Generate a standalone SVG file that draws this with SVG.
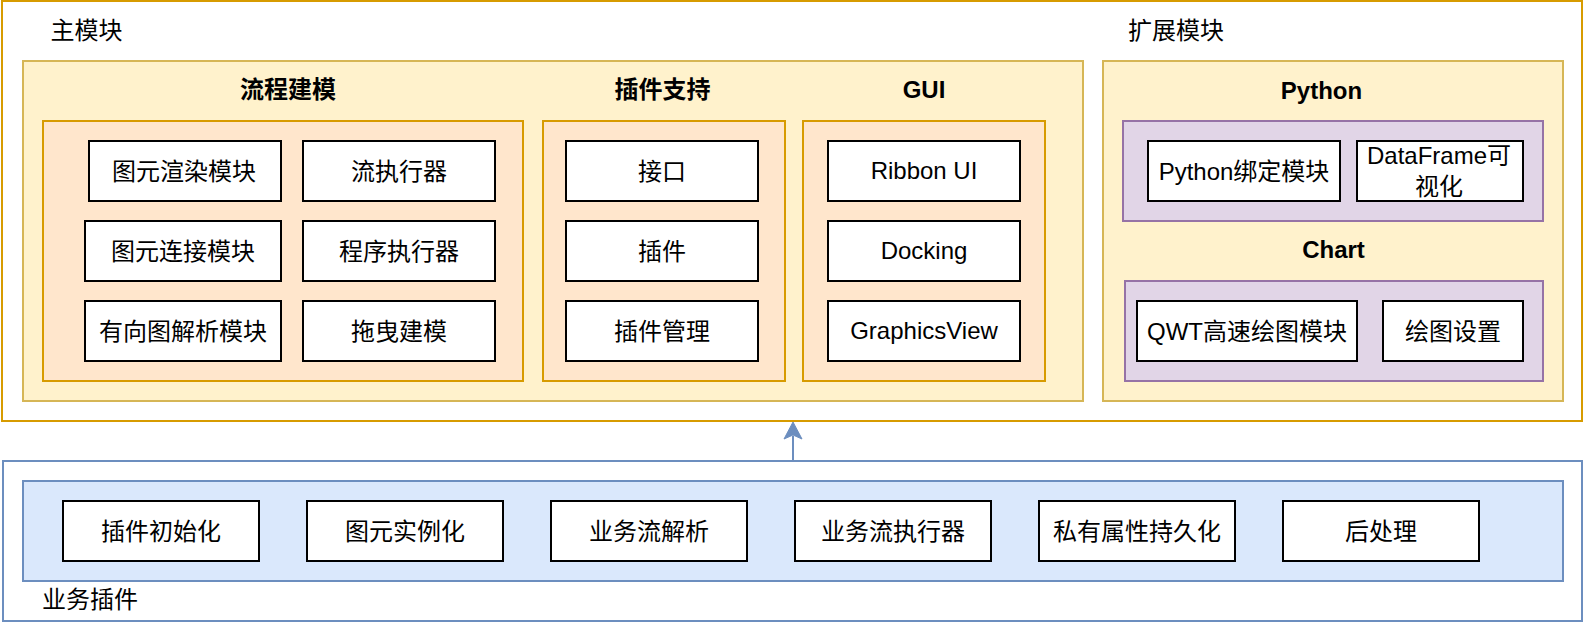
<svg xmlns="http://www.w3.org/2000/svg" width="1584" height="630" viewBox="0 0 1584 630">
<defs>
<style>
text { font-family: "Liberation Sans", "Noto Sans CJK SC", sans-serif; font-size: 24px; fill: #000; }
.c { text-anchor: middle; }
.b { font-weight: bold; }
.frame { fill: #ffffff; stroke: #d79b00; stroke-width: 2; }
.yellow { fill: #fff2cc; stroke: #d6b656; stroke-width: 2; }
.orange { fill: #ffe6cc; stroke: #d79b00; stroke-width: 2; }
.purple { fill: #e1d5e7; stroke: #9673a6; stroke-width: 2; }
.blueframe { fill: #ffffff; stroke: #6c8ebf; stroke-width: 2; }
.blue { fill: #dae8fc; stroke: #6c8ebf; stroke-width: 2; }
.box { fill: #ffffff; stroke: #000000; stroke-width: 2; }
.edge { stroke: #6c8ebf; stroke-width: 2; fill: none; }
</style>
</defs>

<g id="main-frame">
<rect class="frame" x="2" y="1" width="1580" height="420"/>
<text x="50.5" y="39">主模块</text>
<text x="1128" y="39">扩展模块</text>
</g>

<g id="main-module">
<rect class="yellow" x="23" y="61" width="1060" height="340"/>
<text class="c b" x="288" y="98">流程建模</text>
<text class="c b" x="662.5" y="98">插件支持</text>
<text class="c b" x="924" y="98">GUI</text>
</g>

<g id="flow-modeling">
<rect class="orange" x="43" y="121" width="480" height="260"/>
</g>
<g id="n-render"><rect class="box" x="89" y="141" width="192" height="60"/><text class="c" x="184" y="179.5">图元渲染模块</text></g>
<g id="n-flowexec"><rect class="box" x="303" y="141" width="192" height="60"/><text class="c" x="399" y="179.5">流执行器</text></g>
<g id="n-connect"><rect class="box" x="85" y="221" width="196" height="60"/><text class="c" x="183" y="259.5">图元连接模块</text></g>
<g id="n-progexec"><rect class="box" x="303" y="221" width="192" height="60"/><text class="c" x="399" y="259.5">程序执行器</text></g>
<g id="n-graphparse"><rect class="box" x="85" y="301" width="196" height="60"/><text class="c" x="183" y="339.5">有向图解析模块</text></g>
<g id="n-drag"><rect class="box" x="303" y="301" width="192" height="60"/><text class="c" x="399" y="339.5">拖曳建模</text></g>

<g id="plugin-support">
<rect class="orange" x="543" y="121" width="242" height="260"/>
</g>
<g id="n-interface"><rect class="box" x="566" y="141" width="192" height="60"/><text class="c" x="662" y="179.5">接口</text></g>
<g id="n-plugin"><rect class="box" x="566" y="221" width="192" height="60"/><text class="c" x="662" y="259.5">插件</text></g>
<g id="n-pluginmgr"><rect class="box" x="566" y="301" width="192" height="60"/><text class="c" x="662" y="339.5">插件管理</text></g>

<g id="gui">
<rect class="orange" x="803" y="121" width="242" height="260"/>
</g>
<g id="n-ribbon"><rect class="box" x="828" y="141" width="192" height="60"/><text class="c" x="924" y="179">Ribbon UI</text></g>
<g id="n-docking"><rect class="box" x="828" y="221" width="192" height="60"/><text class="c" x="924" y="259">Docking</text></g>
<g id="n-gview"><rect class="box" x="828" y="301" width="192" height="60"/><text class="c" x="924" y="339">GraphicsView</text></g>

<g id="ext-module">
<rect class="yellow" x="1103" y="61" width="460" height="340"/>
<text class="c b" x="1321.5" y="98.5">Python</text>
<text class="c b" x="1333.5" y="258">Chart</text>
</g>

<g id="python">
<rect class="purple" x="1123" y="121" width="420" height="100"/>
</g>
<g id="n-pybind"><rect class="box" x="1148" y="141" width="192" height="60"/><text class="c" x="1244" y="179.5">Python绑定模块</text></g>
<g id="n-dataframe"><rect class="box" x="1357" y="141" width="166" height="60"/><text class="c" x="1439" y="164">DataFrame可</text><text class="c" x="1439" y="194.5">视化</text></g>

<g id="chart">
<rect class="purple" x="1125" y="281" width="418" height="100"/>
</g>
<g id="n-qwt"><rect class="box" x="1137" y="301" width="220" height="60"/><text class="c" x="1247" y="339.5">QWT高速绘图模块</text></g>
<g id="n-plotset"><rect class="box" x="1383" y="301" width="140" height="60"/><text class="c" x="1453" y="339.5">绘图设置</text></g>

<g id="business-plugin">
<rect class="blueframe" x="3" y="461" width="1579" height="160"/>
<rect class="blue" x="23" y="481" width="1540" height="100"/>
<text x="42" y="607.5">业务插件</text>
</g>
<g id="n-init"><rect class="box" x="63" y="501" width="196" height="60"/><text class="c" x="161" y="539.5">插件初始化</text></g>
<g id="n-inst"><rect class="box" x="307" y="501" width="196" height="60"/><text class="c" x="405" y="539.5">图元实例化</text></g>
<g id="n-bparse"><rect class="box" x="551" y="501" width="196" height="60"/><text class="c" x="649" y="539.5">业务流解析</text></g>
<g id="n-bexec"><rect class="box" x="795" y="501" width="196" height="60"/><text class="c" x="893" y="539.5">业务流执行器</text></g>
<g id="n-persist"><rect class="box" x="1039" y="501" width="196" height="60"/><text class="c" x="1137" y="539.5">私有属性持久化</text></g>
<g id="n-post"><rect class="box" x="1283" y="501" width="196" height="60"/><text class="c" x="1381" y="539.5">后处理</text></g>

<g id="connectors">
<line class="edge" x1="793" y1="461" x2="793" y2="436"/>
<polygon points="793,422 802,439 793,435 784,439" fill="#6c8ebf" stroke="#6c8ebf" stroke-width="1"/>
</g>
</svg>
